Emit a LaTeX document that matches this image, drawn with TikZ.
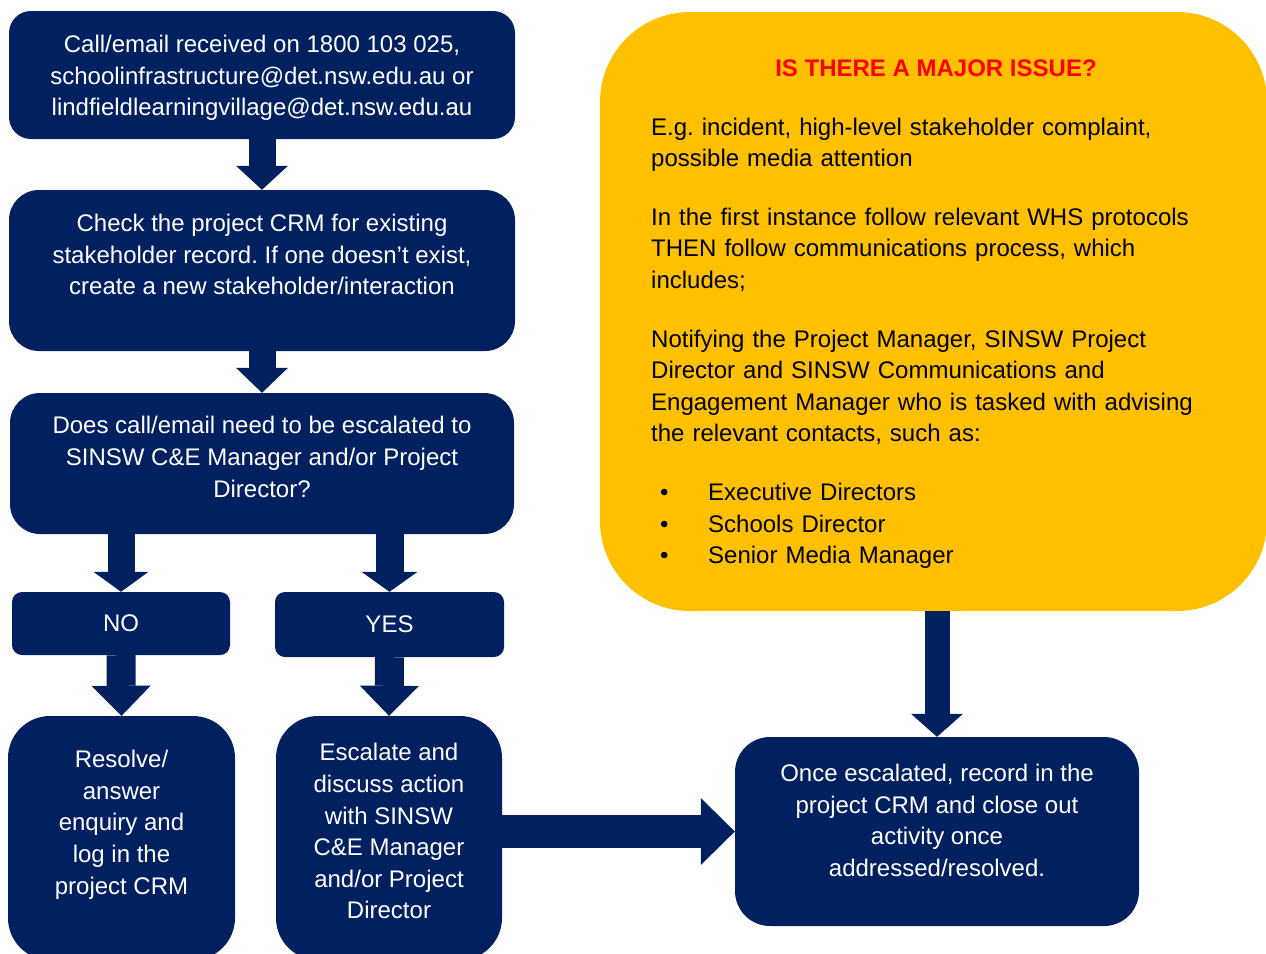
\documentclass[tikz,border=0pt]{standalone}
\usepackage{fontspec}
\setmainfont{Liberation Sans}
\usepackage{xcolor}
\usetikzlibrary{arrows.meta}
\setlength{\parindent}{0pt}
\frenchspacing
\definecolor{navy}{HTML}{002060}
\definecolor{amber}{HTML}{FFC000}
\tikzset{
    flow-box/.style = {fill=navy, text=white, rectangle, align=center, inner sep=0pt, font=\fontsize{24}{31.6}\selectfont},
    issue-box/.style = {fill=amber, rectangle, rounded corners=90pt, inner sep=0pt, minimum width=667pt, minimum height=599pt},
    issue-title/.style = {text=red, inner sep=0pt, font=\fontsize{24}{31.6}\selectfont\bfseries},
    issue-text/.style = {text=black, text width=600pt, align=left, inner sep=0pt, font=\fontsize{24}{31.6}\selectfont},
    block-arrow/.style n args = {3}{draw=navy, line width=#1, -{Triangle[width=#2, length=#3, line width=0pt]}},
}

\begin{document}
\begin{tikzpicture}[x=1pt, y=-1pt]
\useasboundingbox (0,0) rectangle (1266,953);
\clip (0,0) rectangle (1266,953);

\node [issue-box] (issue) at (933.5,311.5) {};
\node [issue-title] (issue-q) at (936,68) {IS THERE A MAJOR ISSUE?};
\node [issue-text, anchor=base west] (details) at (651,135) {E.g. incident, high-level stakeholder complaint,\\ possible media attention\par\vspace{27pt}
In the first instance follow relevant WHS protocols\\ THEN follow communications process, which\\ includes;\par\vspace{27pt}
Notifying the Project Manager, SINSW Project\\ Director and SINSW Communications and\\ Engagement Manager who is tasked with advising\\ the relevant contacts, such as:\par\vspace{27pt}
\hspace*{9pt}\makebox[48pt][l]{\textbullet}Executive Directors\\
\hspace*{9pt}\makebox[48pt][l]{\textbullet}Schools Director\\
\hspace*{9pt}\makebox[48pt][l]{\textbullet}Senior Media Manager};

\node [flow-box, minimum width=506pt, minimum height=128pt, rounded corners=22pt] (received) at (262,75) {\rule{0pt}{23pt}Call/email received on 1800 103 025,\\ schoolinfrastructure@det.nsw.edu.au or\\ lindfieldlearningvillage@det.nsw.edu.au};
\node [flow-box, minimum width=506pt, minimum height=161pt, rounded corners=30pt] (crm-check) at (262,270.5) {Check the project CRM for existing\\ stakeholder record. If one doesn’t exist,\\ create a new stakeholder/interaction\\ ~};
\node [flow-box, minimum width=504pt, minimum height=141pt, rounded corners=30pt] (escalate-q) at (262,463.5) {Does call/email need to be escalated to\\ SINSW C\&E Manager and/or Project\\ Director?\\[-18pt] ~};
\node [flow-box, minimum width=218pt, minimum height=63pt, rounded corners=10pt] (no) at (121,623.5) {NO};
\node [flow-box, minimum width=229pt, minimum height=65pt, rounded corners=10pt] (yes) at (389.5,624.5) {YES};
\node [flow-box, minimum width=227pt, minimum height=244pt, rounded corners=42pt] (resolve) at (121.5,838) {Resolve/\\ answer\\ enquiry and\\ log in the\\ project CRM\\ ~};
\node [flow-box, minimum width=226pt, minimum height=244pt, rounded corners=42pt] (escalate) at (389,838) {Escalate and\\ discuss action\\ with SINSW\\ C\&E Manager\\ and/or Project\\ Director\\[-18pt] ~};
\node [flow-box, minimum width=404pt, minimum height=189pt, rounded corners=35pt] (once) at (937,831.5) {Once escalated, record in the\\ project CRM and close out\\ activity once\\ addressed/resolved.\\[-9pt] ~};

\draw [block-arrow={27pt}{52pt}{24pt}] (received.south) -- (crm-check.north);
\draw [block-arrow={27pt}{52pt}{25pt}] (crm-check.south) -- (escalate-q.north);
\draw [block-arrow={27pt}{55pt}{20pt}] (escalate-q.south -| no.north) -- (no.north);
\draw [block-arrow={28pt}{56pt}{20pt}] (escalate-q.south -| yes.north) -- (yes.north);
\draw [block-arrow={29pt}{59pt}{30pt}] (no.south) -- (resolve.north);
\draw [block-arrow={29pt}{59pt}{30pt}] (yes.south) -- (escalate.north);
\draw [block-arrow={33pt}{67pt}{34pt}] (escalate.east |- once.west) -- (once.west);
\draw [block-arrow={25pt}{52pt}{23pt}] (issue.south -| once.north) -- (once.north);
\end{tikzpicture}
\end{document}
